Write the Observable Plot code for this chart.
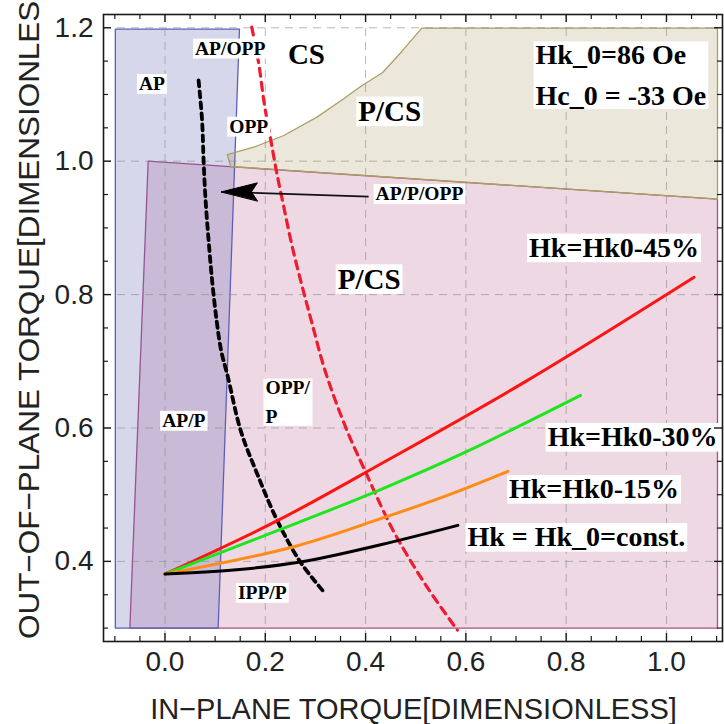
<!DOCTYPE html>
<html>
<head>
<meta charset="utf-8">
<script src="https://cdn.jsdelivr.net/npm/d3@7"></script>
<script src="https://cdn.jsdelivr.net/npm/@observablehq/plot@0.6"></script>
<style>
  body { margin: 0; background: #fff; }
  svg { display: block; }
</style>
</head>
<body>
<script>
// ---- Region polygons (data coordinates) ----
const apRegionX = [-0.099, -0.099, 0.1485, 0.106, -0.099];
const apRegionY = [0.300, 1.198, 1.198, 0.300, 0.300];
const pRegionX = [-0.070, -0.0335, 1.1017, 1.1017, -0.070];
const pRegionY = [0.300, 1.000, 0.943, 0.300, 0.300];
const csRegionX = [0.124, 0.131, 1.1017, 1.1017, 0.512, 0.474, 0.434, 0.390, 0.357, 0.303, 0.237, 0.177, 0.124];
const csRegionY = [1.010, 0.992, 0.943, 1.1995, 1.1995, 1.166, 1.133, 1.112, 1.094, 1.066, 1.0385, 1.021, 1.010];

// ---- Torque trajectories ----
const hk45X = [0, 0.224, 0.430, 0.722, 1.055];
const hk45Y = [0.381, 0.461, 0.546, 0.671, 0.826];
const hk30X = [0, 0.224, 0.430, 0.599, 0.8285];
const hk30Y = [0.381, 0.446, 0.5077, 0.5637, 0.649];
const hk15X = [0, 0.257, 0.430, 0.563, 0.684];
const hk15Y = [0.381, 0.422, 0.464, 0.499, 0.535];
const hk0X = [0, 0.137, 0.270, 0.430, 0.584];
const hk0Y = [0.381, 0.387, 0.399, 0.425, 0.454];

// ---- Boundaries ----
const apBoundX = [0.067, 0.074, 0.077, 0.081, 0.087, 0.094, 0.103, 0.112, 0.125, 0.151, 0.184, 0.224, 0.270, 0.317];
const apBoundY = [1.121, 1.061, 1.001, 0.941, 0.881, 0.821, 0.761, 0.716, 0.678, 0.596, 0.531, 0.461, 0.399, 0.354];
const oppBoundX = [0.173, 0.187, 0.198, 0.210, 0.222, 0.237, 0.254, 0.274, 0.2935, 0.320, 0.363, 0.400, 0.443, 0.470, 0.523, 0.583];
const oppBoundY = [1.201, 1.146, 1.086, 1.036, 0.986, 0.931, 0.871, 0.811, 0.756, 0.684, 0.596, 0.534, 0.464, 0.426, 0.361, 0.297];

// ---- Arrow (AP/P/OPP pointer) ----
const arrowX = [0.406, 0.1125];
const arrowY = [0.947, 0.954];

// ---- Ticks ----
const xMajorTicks = [0.0, 0.2, 0.4, 0.6, 0.8, 1.0];
const xMinorTicks = [-0.1, -0.05, 0.05, 0.1, 0.15, 0.25, 0.3, 0.35, 0.45, 0.5, 0.55, 0.65, 0.7, 0.75, 0.85, 0.9, 0.95, 1.05, 1.1];
const yMajorTicks = [0.4, 0.6, 0.8, 1.0, 1.2];
const yMinorTicks = [0.3, 0.35, 0.45, 0.5, 0.55, 0.65, 0.7, 0.75, 0.85, 0.9, 0.95, 1.05, 1.1, 1.15];

const xTitle = "IN\u2212PLANE TORQUE[DIMENSIONLESS]";
const yTitle = "OUT\u2212OF\u2212PLANE TORQUE[DIMENSIONLESS]";

// ---- Build tables ----
const pts = (X, Y) => X.map((x, i) => ({x, y: Y[i]}));

const W = 724, H = 724;
const mL = 103, mR = 2, mT = 14, mB = 83;
const frameW = W - mL - mR, frameH = H - mT - mB;

// annotation labels (data coordinates)
const smallLabels = [
  {t: "AP", x: -0.026, y: 1.116},
  {t: "AP/OPP", x: 0.130, y: 1.169},
  {t: "OPP", x: 0.167, y: 1.052},
  {t: "AP/P", x: 0.0375, y: 0.611},
  {t: "IPP/P", x: 0.194, y: 0.353}
];
const bigCenter = [
  {t: "CS", x: 0.282, y: 1.160},
  {t: "P/CS", x: 0.448, y: 1.0745},
  {t: "P/CS", x: 0.407, y: 0.823}
];
const bigStart = [
  {t: "Hk=Hk0-45%", x: 0.726, y: 0.870},
  {t: "Hk=Hk0-30%", x: 0.763, y: 0.586},
  {t: "Hk=Hk0-15%", x: 0.686, y: 0.508},
  {t: "Hk = Hk_0=const.", x: 0.603, y: 0.436}
];

const serif = "'Liberation Serif', 'Times New Roman', serif";

const plot = Plot.plot({
  width: W, height: H,
  marginLeft: mL, marginRight: mR, marginTop: mT, marginBottom: mB,
  style: {fontFamily: "'Liberation Sans', Arial, sans-serif", background: "#fff", color: "#222"},
  x: {domain: [-0.1226, 1.1117], label: null},
  y: {domain: [0.2799, 1.2199], label: null},
  marks: [
    // regions
    Plot.line(pts(pRegionX, pRegionY), {x: "x", y: "y", fill: "rgb(165,60,115)", fillOpacity: 0.2, stroke: "rgb(170,80,130)", strokeWidth: 1.3}),
    Plot.line(pts(apRegionX, apRegionY), {x: "x", y: "y", fill: "rgb(96,96,180)", fillOpacity: 0.25, stroke: "rgb(95,95,185)", strokeWidth: 1.3}),
    Plot.line(pts(csRegionX, csRegionY), {x: "x", y: "y", fill: "rgb(150,130,60)", fillOpacity: 0.19, stroke: "rgb(170,160,100)", strokeWidth: 1.3}),
    // grid
    Plot.gridX({ticks: xMajorTicks, stroke: "#8a8a8a", strokeOpacity: 0.6, strokeDasharray: "8,6", strokeWidth: 1}),
    Plot.gridY({ticks: yMajorTicks, stroke: "#8a8a8a", strokeOpacity: 0.6, strokeDasharray: "8,6", strokeWidth: 1}),
    // boundaries
    Plot.line(pts(oppBoundX, oppBoundY), {x: "x", y: "y", stroke: "#ee1c2e", strokeWidth: 3.2, strokeDasharray: "8,6", curve: "catmull-rom"}),
    Plot.line(pts(apBoundX, apBoundY), {x: "x", y: "y", stroke: "#000", strokeWidth: 3.8, strokeDasharray: "6,5", curve: "catmull-rom"}),
    // trajectories
    Plot.line(pts(hk45X, hk45Y), {x: "x", y: "y", stroke: "#ff1414", strokeWidth: 3, curve: "catmull-rom"}),
    Plot.line(pts(hk30X, hk30Y), {x: "x", y: "y", stroke: "#1ee61e", strokeWidth: 3, curve: "catmull-rom"}),
    Plot.line(pts(hk15X, hk15Y), {x: "x", y: "y", stroke: "#ff8c14", strokeWidth: 3, curve: "catmull-rom"}),
    Plot.line(pts(hk0X, hk0Y), {x: "x", y: "y", stroke: "#000", strokeWidth: 3, curve: "catmull-rom"}),
    // arrow
    Plot.link([0], {x1: () => arrowX[0], y1: () => arrowY[0], x2: () => arrowX[1], y2: () => arrowY[1], stroke: "#111", strokeWidth: 1.8}),
    Plot.vector([0], {
      x: () => arrowX[1], y: () => arrowY[1], length: 36, rotate: -90, anchor: "end",
      fill: "#000", stroke: "#000", strokeWidth: 1,
      shape: {draw(ctx, l) {
        ctx.moveTo(0, -l);
        ctx.lineTo(9, 0);
        ctx.lineTo(0, -6);
        ctx.lineTo(-9, 0);
        ctx.closePath();
      }}
    }),
    // labels
    Plot.text(smallLabels, {x: "x", y: "y", text: "t", fontFamily: serif, fontWeight: "bold", fontSize: 19.5, fill: "#000", textAnchor: "middle", lineAnchor: "middle"}),
    Plot.text([0], {x: () => 0.2004, y: () => 0.6435, text: () => "OPP/\nP", fontFamily: serif, fontWeight: "bold", fontSize: 19.5, lineHeight: 1.5, fill: "#000", textAnchor: "start", lineAnchor: "middle"}),
    Plot.text([0], {x: () => 0.420, y: () => 0.951, text: () => "AP/P/OPP", fontFamily: serif, fontWeight: "bold", fontSize: 19.5, fill: "#000", textAnchor: "start", lineAnchor: "middle"}),
    Plot.text(bigCenter, {x: "x", y: "y", text: "t", fontFamily: serif, fontWeight: "bold", fontSize: 29, fill: "#000", textAnchor: "middle", lineAnchor: "middle"}),
    Plot.text(bigStart, {x: "x", y: "y", text: "t", fontFamily: serif, fontWeight: "bold", fontSize: 28, fill: "#000", textAnchor: "start", lineAnchor: "middle"}),
    Plot.text([0], {x: () => 0.739, y: () => 1.135, text: () => "Hk_0=86 Oe\nHc_0 = -33 Oe", fontFamily: serif, fontWeight: "bold", fontSize: 28, lineHeight: 1.46, fill: "#000", textAnchor: "start", lineAnchor: "middle"}),
    // frame & ticks
    Plot.frame({stroke: "#1a1a1a", strokeWidth: 1.6}),
    Plot.ruleX(xMajorTicks, {x: d => d, insetTop: frameH - 8, stroke: "#1a1a1a", strokeWidth: 1.4}),
    Plot.ruleX(xMinorTicks, {x: d => d, insetTop: frameH - 5, stroke: "#1a1a1a", strokeWidth: 1.2}),
    Plot.ruleX(xMajorTicks, {x: d => d, insetBottom: frameH - 8, stroke: "#1a1a1a", strokeWidth: 1.4}),
    Plot.ruleX(xMinorTicks, {x: d => d, insetBottom: frameH - 5, stroke: "#1a1a1a", strokeWidth: 1.2}),
    Plot.ruleY(yMajorTicks, {y: d => d, insetRight: frameW - 8, stroke: "#1a1a1a", strokeWidth: 1.4}),
    Plot.ruleY(yMinorTicks, {y: d => d, insetRight: frameW - 5, stroke: "#1a1a1a", strokeWidth: 1.2}),
    Plot.ruleY(yMajorTicks, {y: d => d, insetLeft: frameW - 8, stroke: "#1a1a1a", strokeWidth: 1.4}),
    Plot.ruleY(yMinorTicks, {y: d => d, insetLeft: frameW - 5, stroke: "#1a1a1a", strokeWidth: 1.2}),
    Plot.axisX({ticks: xMajorTicks, tickSize: 0, tickPadding: 10, tickFormat: d3.format(".1f"), fontSize: 28, label: null, fill: "#222"}),
    Plot.axisY({ticks: yMajorTicks, tickSize: 0, tickPadding: 10, tickFormat: d3.format(".1f"), fontSize: 28, label: null, fill: "#222"})
  ]
});

document.body.appendChild(plot);

// white boxes behind annotation labels (copy each label's transform)
const svg = d3.select(plot);
svg.selectAll('g[aria-label="text"] text').each(function () {
  const b = this.getBBox();
  const fs = parseFloat(getComputedStyle(this).fontSize) || 20;
  const nLines = this.querySelectorAll("tspan").length || 1;
  const cy = b.y + b.height / 2 + fs * 0.02;
  const boxH = nLines > 1 ? b.height * 0.94 : fs * 1.02;
  const tr = this.getAttribute("transform");
  const r = d3.select(this.parentNode).insert("rect", () => this)
    .attr("x", b.x - 2).attr("y", cy - boxH / 2)
    .attr("width", b.width + 4).attr("height", boxH)
    .attr("fill", "#fff").attr("stroke", "none");
  if (tr) r.attr("transform", tr);
});

// axis titles
svg.append("text")
  .attr("x", mL + frameW / 2 + 1).attr("y", 719)
  .attr("text-anchor", "middle")
  .attr("font-family", "'Liberation Sans', Arial, sans-serif")
  .attr("font-size", 29).attr("fill", "#222")
  .text(xTitle);
svg.append("text")
  .attr("transform", "translate(38.5,639) rotate(-90)")
  .attr("text-anchor", "start")
  .attr("font-family", "'Liberation Sans', Arial, sans-serif")
  .attr("font-size", 30).attr("fill", "#222")
  .attr("textLength", 668).attr("lengthAdjust", "spacingAndGlyphs")
  .text(yTitle);
</script>
</body>
</html>
